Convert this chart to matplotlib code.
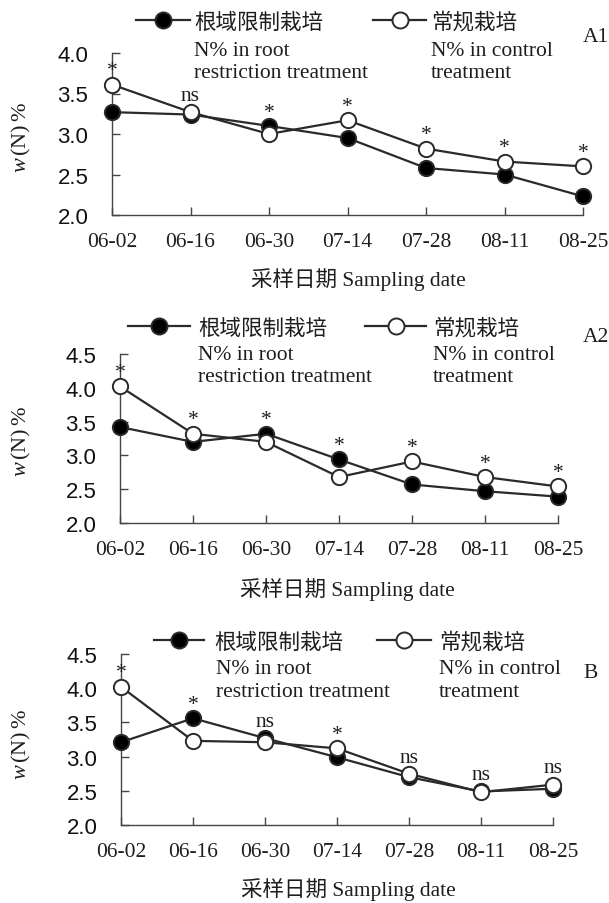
import matplotlib
matplotlib.use('Agg')
import matplotlib.pyplot as plt
from matplotlib.legend import Legend
from matplotlib.ticker import FormatStrFormatter, MultipleLocator

plt.rcParams['mathtext.fontset'] = 'custom'
plt.rcParams['mathtext.rm'] = 'Liberation Serif'
plt.rcParams['mathtext.it'] = 'Liberation Serif:italic'

# ---------------- data ----------------
dates = ['06-02', '06-16', '06-30', '07-14', '07-28', '08-11', '08-25']
label_rr = '根域限制栽培'
label_ck = '常规栽培'
eng_rr = ['N% in root', 'restriction treatment']
eng_ck = ['N% in control', 'treatment']
xlabel_text = '采样日期 Sampling date'
ylabel_text = r'$w\,(\mathrm{N})\,\%$'

a1_rr = [3.27, 3.24, 3.10, 2.95, 2.58, 2.50, 2.23]
a1_ck = [3.61, 3.27, 3.00, 3.17, 2.82, 2.66, 2.60]
a1_rr_err = [0.04, 0.03, 0.03, 0.03, 0.03, 0.03, 0.03]
a1_ck_err = [0.06, 0.05, 0.03, 0.04, 0.06, 0.03, 0.03]
a1_sig = ['*', 'ns', '*', '*', '*', '*', '*']

a2_rr = [3.42, 3.20, 3.32, 2.94, 2.57, 2.47, 2.39]
a2_ck = [4.02, 3.32, 3.20, 2.68, 2.91, 2.68, 2.54]
a2_rr_err = [0.04, 0.03, 0.04, 0.05, 0.04, 0.03, 0.03]
a2_ck_err = [0.05, 0.04, 0.03, 0.10, 0.04, 0.03, 0.03]
a2_sig = ['*', '*', '*', '*', '*', '*', '*']

b_rr = [3.21, 3.56, 3.27, 2.99, 2.70, 2.49, 2.53]
b_ck = [4.02, 3.23, 3.21, 3.12, 2.75, 2.48, 2.59]
b_rr_err = [0.03, 0.03, 0.03, 0.03, 0.03, 0.03, 0.03]
b_ck_err = [0.03, 0.03, 0.03, 0.03, 0.03, 0.03, 0.03]
b_sig = ['*', '*', 'ns', '*', 'ns', 'ns', 'ns']

panel_names = ['A1', 'A2', 'B']

# ---------------- layout (pixels) ----------------
W, H = 609, 904
fig = plt.figure(figsize=(W / 100, H / 100), dpi=100)

FS = 15.5
FSPX = FS * 100 / 72

def fx(px):
    return px / W

def fy(py):
    return 1 - py / H

layouts = [
    dict(l=112, r=583, t=54, b=216, ymax=4.0,
         leg1=(136, 23, 54, 4), leg2=(373, 23, 53, 5),
         eng1=(194, 56, 78), eng2=(431, 56, 78),
         name=(583, 42), xl=(358, 280), yl=(21, 138)),
    dict(l=120, r=558, t=355, b=524, ymax=4.5,
         leg1=(128, 329, 62, 8), leg2=(365, 329, 61, 7),
         eng1=(198, 360, 382), eng2=(433, 360, 382),
         name=(583, 342), xl=(347, 590), yl=(21, 442)),
    dict(l=121, r=553, t=655, b=826, ymax=4.5,
         leg1=(153.5, 643, 50, 11), leg2=(377, 643, 54, 8),
         eng1=(215.7, 674, 697), eng2=(439, 674, 697),
         name=(583, 678), xl=(348, 890), yl=(21, 745)),
]

series = [
    (a1_rr, a1_ck, a1_rr_err, a1_ck_err, a1_sig),
    (a2_rr, a2_ck, a2_rr_err, a2_ck_err, a2_sig),
    (b_rr, b_ck, b_rr_err, b_ck_err, b_sig),
]

line_col = '#2a2a2a'
axis_col = '#454545'
txt_col = '#1e1e1e'
serif = ['Liberation Serif', 'Noto Sans CJK SC']

x = list(range(len(dates)))

for lay, (rr, ck, rre, cke, sig), pname in zip(layouts, series, panel_names):
    ax = fig.add_axes([fx(lay['l']), fy(lay['b']),
                       fx(lay['r'] - lay['l']), (lay['b'] - lay['t']) / H])
    ax.errorbar(x, rr, yerr=rre, fmt='none', ecolor=line_col, elinewidth=1,
                capsize=3, capthick=1, zorder=2, clip_on=False)
    ax.errorbar(x, ck, yerr=cke, fmt='none', ecolor=line_col, elinewidth=1,
                capsize=3, capthick=1, zorder=4, clip_on=False)
    l1, = ax.plot(x, rr, '-o', color=line_col, lw=1.6, markersize=11,
                  markerfacecolor='black', markeredgecolor=line_col,
                  markeredgewidth=1.4, zorder=3, clip_on=False)
    l2, = ax.plot(x, ck, '-o', color=line_col, lw=1.6, markersize=11,
                  markerfacecolor='white', markeredgecolor=line_col,
                  markeredgewidth=1.4, zorder=5, clip_on=False)

    for i, s in enumerate(sig):
        top = max(rr[i], ck[i])
        off = 10 if s == '*' else 12
        ax.annotate(s, xy=(x[i], top), xytext=(0, off), textcoords='offset points',
                    ha='center', va='center', fontsize=FS, family=serif,
                    color=txt_col, annotation_clip=False)

    ax.set_xlim(0, len(dates) - 1)
    ax.set_ylim(2.0, lay['ymax'])
    ax.yaxis.set_major_locator(MultipleLocator(0.5))
    ax.yaxis.set_major_formatter(FormatStrFormatter('%.1f'))
    ax.set_xticks(x)
    ax.set_xticklabels(dates, family=serif, fontsize=FS, color=txt_col)
    for t in ax.get_yticklabels():
        t.set_family('Liberation Sans')
        t.set_fontsize(16)
        t.set_color('#111111')
    for sp in ['top', 'right']:
        ax.spines[sp].set_visible(False)
    for sp in ['left', 'bottom']:
        ax.spines[sp].set_color(axis_col)
        ax.spines[sp].set_linewidth(1.0)
    ax.tick_params(axis='x', direction='in', length=5.5, width=1, color=axis_col, pad=12)
    ax.tick_params(axis='y', direction='in', length=5.5, width=1, color=axis_col, pad=17)
    ax.set_facecolor('none')

    for key, handle, lab in (('leg1', l1, label_rr), ('leg2', l2, label_ck)):
        hx, hy, hlen, tpad = lay[key]
        leg = Legend(ax, [handle], [lab], loc='center left',
                     bbox_to_anchor=(fx(hx), fy(hy)), bbox_transform=fig.transFigure,
                     frameon=False, borderpad=0, borderaxespad=0,
                     handlelength=hlen / FSPX, handletextpad=tpad / FSPX,
                     numpoints=1, markerscale=1.05,
                     prop={'family': ['Noto Sans CJK SC'], 'size': FS})
        for t in leg.get_texts():
            t.set_color(txt_col)
        ax.add_artist(leg)

    for (ex, ey1, ey2), lines in ((lay['eng1'], eng_rr), (lay['eng2'], eng_ck)):
        fig.text(fx(ex), fy(ey1), lines[0], ha='left', va='baseline',
                 family=serif, fontsize=FS, color=txt_col)
        fig.text(fx(ex), fy(ey2), lines[1], ha='left', va='baseline',
                 family=serif, fontsize=FS, color=txt_col)

    fig.text(fx(lay['name'][0]), fy(lay['name'][1]), pname, ha='left', va='baseline',
             family=serif, fontsize=FS, color=txt_col)
    fig.text(fx(lay['xl'][0]), fy(lay['xl'][1]), xlabel_text, ha='center', va='center',
             family=serif, fontsize=FS, color=txt_col)
    fig.text(fx(lay['yl'][0]), fy(lay['yl'][1]), ylabel_text, ha='center', va='center',
             rotation=90, fontsize=16, color=txt_col)

fig.savefig('out.png', dpi=100, facecolor='white')
